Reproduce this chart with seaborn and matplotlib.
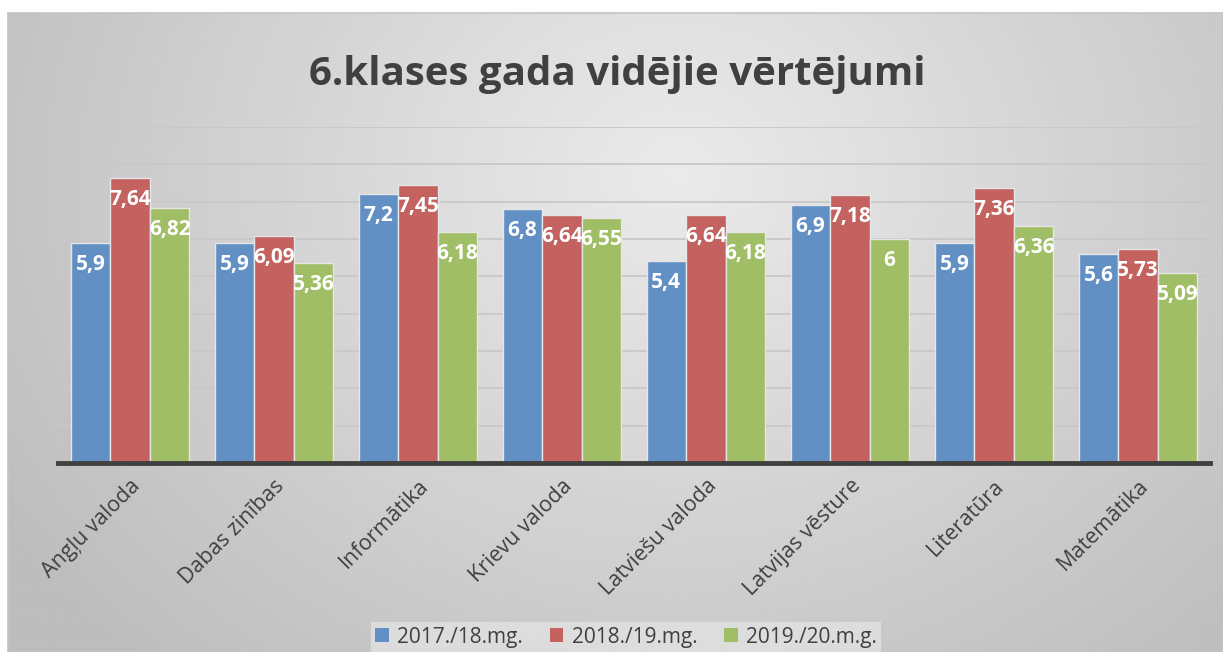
import numpy as np
import pandas as pd
import seaborn as sns
import matplotlib.pyplot as plt
from matplotlib.patches import Patch

# chart data
subjects = ['Angļu valoda', 'Dabas zinības', 'Informātika', 'Krievu valoda',
            'Latviešu valoda', 'Latvijas vēsture', 'Literatūra', 'Matemātika']
years = ['2017./18.mg.', '2018./19.mg.', '2019./20.m.g.']
y2017 = [5.9, 5.9, 7.2, 6.8, 5.4, 6.9, 5.9, 5.6]
y2018 = [7.64, 6.09, 7.45, 6.64, 6.64, 7.18, 7.36, 5.73]
y2019 = [6.82, 5.36, 6.18, 6.55, 6.18, 6.0, 6.36, 5.09]
colors = ['#6290c5', '#c3625f', '#a0be66']

df = pd.DataFrame({
    'Priekšmets': subjects * 3,
    'Gads': np.repeat(years, len(subjects)),
    'Vērtējums': y2017 + y2018 + y2019,
})

sns.set_style('white')
plt.rcParams['font.family'] = ['Open Sans', 'DejaVu Sans']

W, H = 1223, 652
fig = plt.figure(figsize=(W / 100, H / 100), dpi=100)
fig.patch.set_facecolor('white')

# grey radial-gradient chart background
x0, ytop = 8 / W, 1 - 13 / H
bg = fig.add_axes([x0, 0, 1 - x0, ytop], zorder=-1)
gx, gy = np.meshgrid(np.linspace(0, 1, 400), np.linspace(0, 1, 220))
r = np.sqrt(((gx - 0.55) * 1.6) ** 2 + (gy - 0.25) ** 2)
r = np.clip(r / 1.05, 0, 1)
shade = 0.92 - 0.18 * r
bg.imshow(shade, cmap='gray', vmin=0, vmax=1, aspect='auto',
          extent=[0, 1, 1, 0], interpolation='bilinear')
bg.set_xticks([])
bg.set_yticks([])
for s in bg.spines.values():
    s.set_color('#c4c4c4')
    s.set_linewidth(1.2)

ax = fig.add_axes([58 / W, 1 - 463 / H, (1210 - 58) / W, (463 - 127) / H])
ax.patch.set_alpha(0)

sns.barplot(data=df, x='Priekšmets', y='Vērtējums', hue='Gads',
            palette=colors, saturation=1, width=0.825, gap=0,
            edgecolor='#e6e6e6', linewidth=1, legend=False, ax=ax,
            zorder=3)

for cont in ax.containers:
    labels = [f'{v:g}'.replace('.', ',') for v in cont.datavalues]
    ax.bar_label(cont, labels=labels, label_type='edge', padding=-23,
                 color='white', fontsize=15, fontweight='bold', zorder=5)

ax.set_ylim(0, 9)
ax.set_xlim(-0.5, len(subjects) - 0.5)
ax.set_yticks(range(1, 10))
ax.set_yticklabels([])
ax.tick_params(axis='y', length=0)
ax.grid(axis='y', color='#c8c8c8', linewidth=1.3, zorder=0)
ax.set_axisbelow(True)
for s in ['top', 'right', 'left']:
    ax.spines[s].set_visible(False)
ax.spines['bottom'].set_color('#404040')
ax.spines['bottom'].set_linewidth(3.5)
ax.spines['bottom'].set_zorder(4)
ax.set_xlabel('')
ax.set_ylabel('')
ax.tick_params(axis='x', length=0, pad=9)
ax.set_xticks(range(len(subjects)))
ax.set_xticklabels(subjects, rotation=45, ha='right', rotation_mode='anchor',
                   fontsize=15.5, color='#404040')

fig.text(0.505, 1 - 75 / H, '6.klases gada vidējie vērtējumi', ha='center',
         va='center', fontsize=29, fontweight='bold', color='#404040')

handles = [Patch(facecolor=c, edgecolor='none') for c in colors]
leg = fig.legend(handles, years, loc='center', bbox_to_anchor=(0.512, 1 - 637 / H),
                 ncol=3, frameon=True, fontsize=15, handlelength=0.65,
                 handleheight=0.65, handletextpad=0.4, columnspacing=1.3,
                 borderpad=0.2, fancybox=False)
leg.get_frame().set_facecolor('#e2e2e2')
leg.get_frame().set_edgecolor('none')
for t in leg.get_texts():
    t.set_color('#404040')

fig.savefig('out.png', dpi=100)
